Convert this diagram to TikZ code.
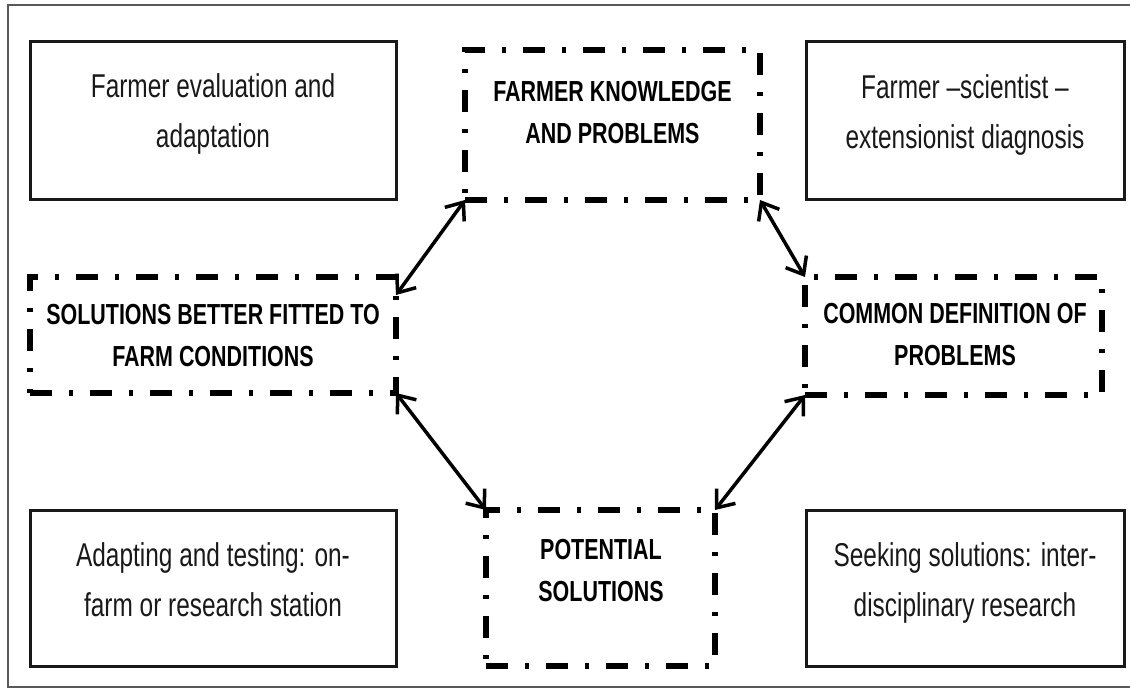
\documentclass[tikz,border=0pt]{standalone}
\usepackage{fontspec}
\setmainfont[FakeStretch=0.74]{Liberation Sans}
\usetikzlibrary{arrows.meta}

\tikzset{
  plainbox/.style={draw=black!90,line width=3pt,inner sep=0pt,outer sep=0pt},
  dashbox/.style={draw=black,line width=6pt,dash pattern=on 22pt off 17pt on 4pt off 17pt,inner sep=0pt,outer sep=0pt},
  plaintext/.style={align=center,text=black!90,text height=75pt,text depth=0pt,font=\fontsize{33}{50}\selectfont},
  boldtext/.style={align=center,text=black,text height=63pt,text depth=0pt,font=\fontsize{29}{42}\selectfont\bfseries},
  link/.style={{Straight Barb[length=15pt,width=24pt]}-{Straight Barb[length=15pt,width=24pt]},line width=3.5pt}
}

\begin{document}
\begin{tikzpicture}[x=1pt,y=-1pt]
\useasboundingbox (0,0) rectangle (1130,696);
\draw[line width=2.5pt,black!65] (1140,5) -- (8,5) -- (8,687) -- (1140,687);

\node[plainbox,minimum width=366pt,minimum height=158pt] (evalbox) at (213,120) {};
\node[dashbox,minimum width=295pt,minimum height=150pt] (knowbox) at (612.5,125) {};
\node[plainbox,minimum width=318pt,minimum height=158pt] (diagbox) at (965,120) {};
\node[dashbox,minimum width=366pt,minimum height=116pt] (fitbox) at (213,335) {};
\node[dashbox,minimum width=297pt,minimum height=118pt] (defbox) at (953.5,336) {};
\node[plainbox,minimum width=366pt,minimum height=156pt] (adaptbox) at (213,588) {};
\node[dashbox,minimum width=229pt,minimum height=156pt] (potbox) at (600.5,588) {};
\node[plainbox,minimum width=318pt,minimum height=156pt] (seekbox) at (965,588) {};

\node[plaintext] (evaltext) at (213,109.5) {Farmer evaluation and\\adaptation};
\node[boldtext] (knowtext) at (612.5,111.5) {FARMER KNOWLEDGE\\AND PROBLEMS};
\node[plaintext] (diagtext) at (965,110.5) {Farmer --scientist --\\extensionist diagnosis};
\node[boldtext] (fittext) at (213,334.5) {SOLUTIONS BETTER FITTED TO\\FARM CONDITIONS};
\node[boldtext] (deftext) at (955,333.5) {COMMON DEFINITION OF\\PROBLEMS};
\node[plaintext] (adapttext) at (213,578.5) {Adapting and testing: on-\\farm or research station};
\node[boldtext] (pottext) at (601,569.5) {POTENTIAL\\SOLUTIONS};
\node[plaintext] (seektext) at (965,578.5) {Seeking solutions: inter-\\disciplinary research};

\draw[link] (knowbox.south west) -- ([yshift=-18pt]fitbox.north east);
\draw[link] (knowbox.south east) -- (defbox.north west);
\draw[link] (fitbox.south east) -- (potbox.north west);
\draw[link] (defbox.south west) -- (potbox.north east);
\end{tikzpicture}
\end{document}
